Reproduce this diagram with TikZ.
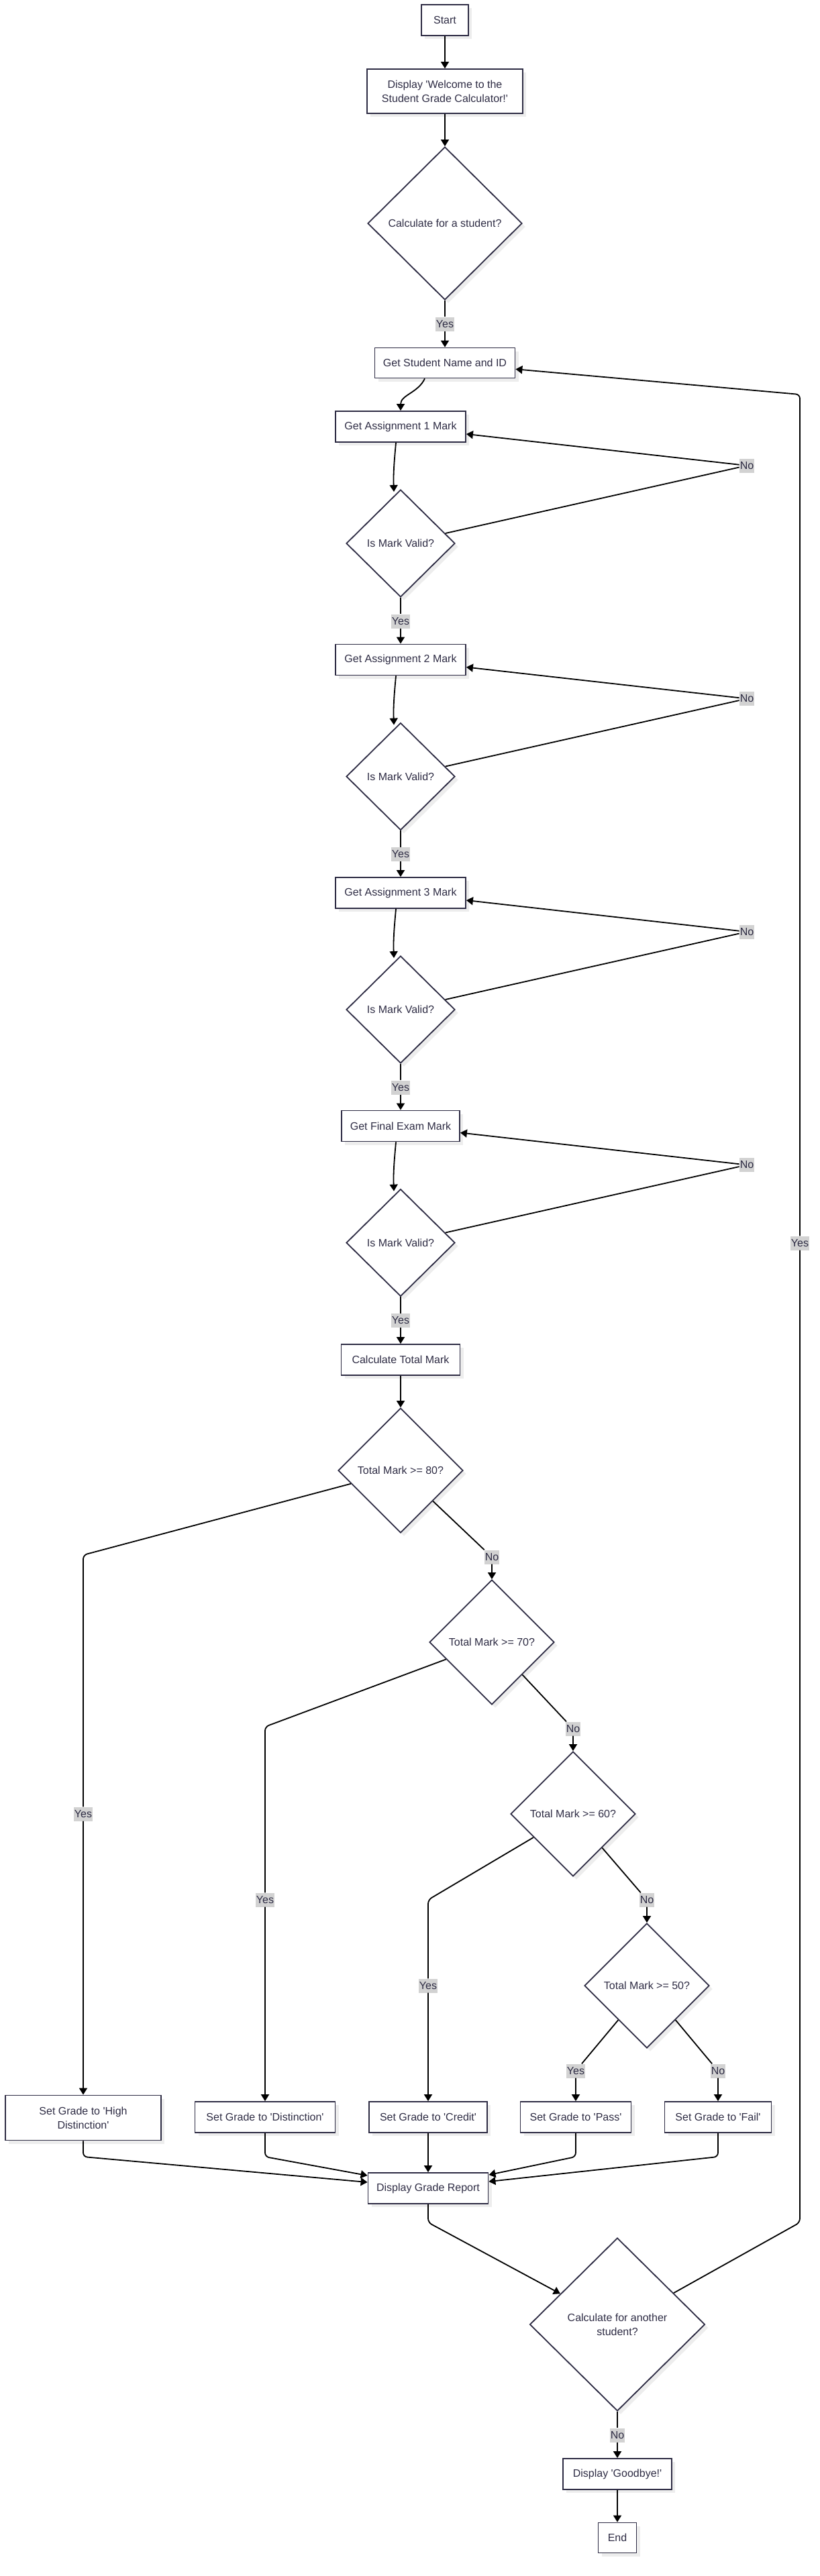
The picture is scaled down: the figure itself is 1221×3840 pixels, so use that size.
\documentclass[tikz,border=0pt]{standalone}
\usepackage{fontspec}
\setmainfont{Liberation Sans}[Ligatures=TeXOff]
\usetikzlibrary{shapes.geometric,arrows.meta,shadows}
\definecolor{ink}{HTML}{2E2C44}
\definecolor{tagbg}{HTML}{D2D2D2}
\tikzset{
  box/.style={draw=ink,line width=1.8pt,fill=white,text=ink,minimum height=46pt,inner sep=2pt,align=center,
    drop shadow={shadow xshift=5pt,shadow yshift=-5pt,fill=black!7,opacity=1}},
  decide/.style={box,diamond,inner sep=0pt,aspect=1},
  tag/.style={fill=tagbg,text=ink,inner sep=1pt,minimum height=21pt},
  flow/.style={line width=1.8pt,-{Triangle[length=10pt,width=12pt]}},
}
\begin{document}
\begin{tikzpicture}[x=1pt,y=-1pt,every node/.style={font=\fontsize{16}{21}\selectfont}]
\pgfmathsetmacro{\yA}{636}
\pgfmathsetmacro{\yB}{\yA+347.5}
\pgfmathsetmacro{\yC}{\yB+347.5}
\pgfmathsetmacro{\yD}{\yC+347.5}
\fill[white](0,0)rectangle(1221,3840);
% top part
\node[box,minimum width=70pt](start)at(663,30){Start};
\node[box,minimum width=232pt,minimum height=66pt](welc)at(663,136){Display 'Welcome to the\\Student Grade Calculator!'};
\node[decide,minimum width=230pt,minimum height=228pt](ask)at(663,333){Calculate for a student?};
\node[tag](yAsk)at(663,483){Yes};
\node[box,minimum width=209pt,minimum height=45pt](name)at(663,541){Get Student Name and ID};
% marks and checks
\node[box,minimum width=194pt](getA)at(597,\yA){Get Assignment 1 Mark};
\node[decide,minimum width=162pt,minimum height=160pt](chkA)at(597,\yA+174){Is Mark Valid?};
\node[tag](noA)at(1113,\yA+58){No};
\node[tag](yesA)at(597,\yA+290){Yes};
\node[box,minimum width=194pt](getB)at(597,\yB){Get Assignment 2 Mark};
\node[decide,minimum width=162pt,minimum height=160pt](chkB)at(597,\yB+174){Is Mark Valid?};
\node[tag](noB)at(1113,\yB+58){No};
\node[tag](yesB)at(597,\yB+290){Yes};
\node[box,minimum width=194pt](getC)at(597,\yC){Get Assignment 3 Mark};
\node[decide,minimum width=162pt,minimum height=160pt](chkC)at(597,\yC+174){Is Mark Valid?};
\node[tag](noC)at(1113,\yC+58){No};
\node[tag](yesC)at(597,\yC+290){Yes};
\node[box,minimum width=176pt](getD)at(597,\yD){Get Final Exam Mark};
\node[decide,minimum width=162pt,minimum height=160pt](chkD)at(597,\yD+174){Is Mark Valid?};
\node[tag](noD)at(1113,\yD+58){No};
\node[tag](yesD)at(597,\yD+290){Yes};
\node[box,minimum width=177pt](total)at(597,\yD+348.5){Calculate Total Mark};
% grading
\node[decide,minimum width=186pt,minimum height=186pt](g80)at(597,2192){Total Mark >= 80?};
\node[tag](n80)at(733,2321){No};
\node[decide,minimum width=186pt,minimum height=186pt](g70)at(733,2448){Total Mark >= 70?};
\node[tag](n70)at(854,2577){No};
\node[decide,minimum width=186pt,minimum height=186pt](g60)at(854,2704){Total Mark >= 60?};
\node[tag](n60)at(964,2832){No};
\node[decide,minimum width=186pt,minimum height=186pt](g50)at(964,2960){Total Mark >= 50?};
\node[tag](y80)at(124,2704){Yes};
\node[tag](y70)at(395,2832){Yes};
\node[tag](y60)at(638,2960){Yes};
\node[tag](y50)at(858,3087){Yes};
\node[tag](n50)at(1070,3087){No};
\node[box,minimum width=232pt,minimum height=67pt](hd)at(124,3157){Set Grade to 'High\\Distinction'};
\node[box,minimum width=209pt](dist)at(395,3156){Set Grade to 'Distinction'};
\node[box,minimum width=176pt](cred)at(638,3156){Set Grade to 'Credit'};
\node[box,minimum width=165pt](pass)at(858,3156){Set Grade to 'Pass'};
\node[box,minimum width=159pt](fail)at(1070,3156){Set Grade to 'Fail'};
\node[box,minimum width=179pt](report)at(638,3262){Display Grade Report};
% end part
\node[decide,minimum width=261pt,minimum height=258pt,align=center](again)at(920,3465){Calculate for another\\student?};
\node[tag](nEnd)at(920,3630){No};
\node[box,minimum width=162pt](bye)at(920,3688){Display 'Goodbye!'};
\node[box,minimum width=57pt,minimum height=45pt](finish)at(920,3783){End};
\node[tag](yLoop)at(1192,1853){Yes};
\coordinate(k80)at(124,2318);
\coordinate(k70)at(395,2574);
\coordinate(k60)at(638,2832);
\coordinate(jHD)at(124,3215);
\coordinate(jDist)at(395,3215);
\coordinate(jPass)at(858,3215);
\coordinate(jFail)at(1070,3215);
\coordinate(jOut)at(638,3313);
\coordinate(rLow)at(1192,3313);
\coordinate(rTop)at(1192,588);
% connectors
\draw[flow](start)--(welc);
\draw[flow](welc)--(ask);
\draw[flow](ask)--(yAsk)--(name);
\draw[flow]([xshift=-30pt]name.south)to[out=-115,in=90](getA.north);
\draw[flow]([xshift=-7pt]getA.south)to[out=-95,in=92]([xshift=-10pt,yshift=-4pt]chkA.north);
\draw[flow](chkA)--(yesA)--(getB);
\draw[flow](chkA)--(noA)--(getA);
\draw[flow]([xshift=-7pt]getB.south)to[out=-95,in=92]([xshift=-10pt,yshift=-4pt]chkB.north);
\draw[flow](chkB)--(yesB)--(getC);
\draw[flow](chkB)--(noB)--(getB);
\draw[flow]([xshift=-7pt]getC.south)to[out=-95,in=92]([xshift=-10pt,yshift=-4pt]chkC.north);
\draw[flow](chkC)--(yesC)--(getD);
\draw[flow](chkC)--(noC)--(getC);
\draw[flow]([xshift=-7pt]getD.south)to[out=-95,in=92]([xshift=-10pt,yshift=-4pt]chkD.north);
\draw[flow](chkD)--(yesD)--(total);
\draw[flow](chkD)--(noD)--(getD);
\draw[flow](total)--(g80);
\draw[flow](g80)--(n80)--(g70);
\draw[flow](g70)--(n70)--(g60);
\draw[flow](g60)--(n60)--(g50);
\draw[flow,rounded corners=6pt](g80)--(k80)--(y80)--(hd);
\draw[flow,rounded corners=6pt](g70)--(k70)--(y70)--(dist);
\draw[flow,rounded corners=6pt](g60)--(k60)--(y60)--(cred);
\draw[flow](g50)--(y50)--(pass);
\draw[flow](g50)--(n50)--(fail);
\draw[flow,rounded corners=6pt](hd.south)--(jHD)--([yshift=9pt]report.west);
\draw[flow,rounded corners=6pt](dist.south)--(jDist)--([yshift=19pt]report.west);
\draw[flow](cred)--(report);
\draw[flow,rounded corners=6pt](pass.south)--(jPass)--([yshift=20pt]report.east);
\draw[flow,rounded corners=6pt](fail.south)--(jFail)--([yshift=10pt]report.east);
\draw[flow,rounded corners=6pt](report.south)--(jOut)--(again);
\draw[flow,rounded corners=6pt](again)--(rLow)--(yLoop)--(rTop)--(name);
\draw[flow](again)--(nEnd)--(bye);
\draw[flow](bye)--(finish);
\end{tikzpicture}
\end{document}
